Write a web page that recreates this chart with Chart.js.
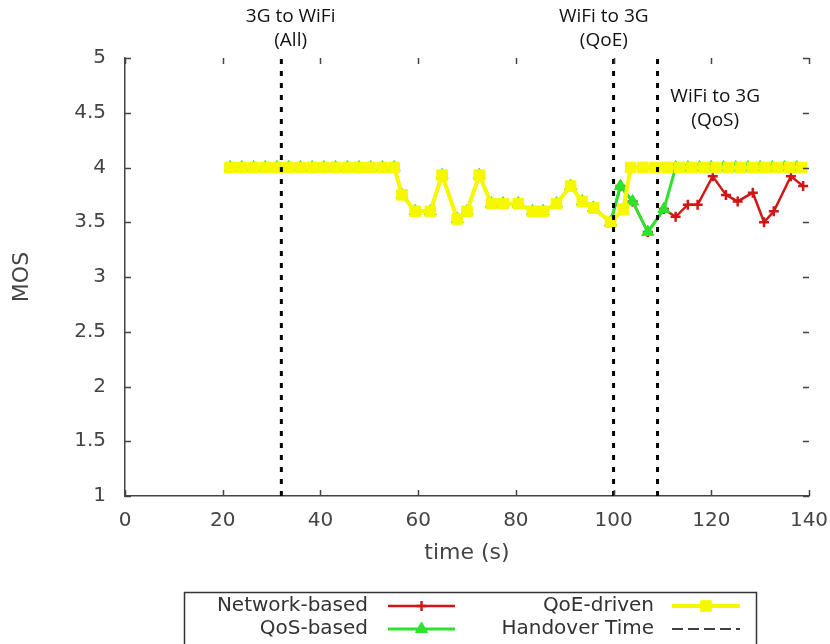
<!DOCTYPE html>
<html>
<head>
<meta charset="utf-8">
<script src="https://cdn.jsdelivr.net/npm/chart.js@4.4.0/dist/chart.umd.min.js"></script>
<style>
  html, body { margin: 0; padding: 0; background: #fff; }
  #wrap { width: 830px; height: 644px; }
</style>
</head>
<body>
<div id="wrap"><canvas id="chart" width="830" height="644"></canvas></div>
<script>
// samples shared by all three methods (identical MOS until the WiFi->3G handover)
const commonTime = [21.5, 23.9, 26.3, 28.7, 31.1, 33.5, 35.9, 38.3, 40.7, 43.1, 45.5, 47.9, 50.3, 52.7, 55.1,
    56.7, 59.4, 62.5, 64.9, 68, 70, 72.5, 75, 77.4, 80.5, 83.4, 85.6, 88.3, 91.2, 93.6, 95.9, 99.4];
const commonMos = [4, 4, 4, 4, 4, 4, 4, 4, 4, 4, 4, 4, 4, 4, 4,
    3.75, 3.6, 3.6, 3.93, 3.53, 3.6, 3.93, 3.67, 3.67, 3.67, 3.6, 3.6, 3.67, 3.83, 3.69, 3.63, 3.5];

// after the split
const networkTime = [101.4, 103.9, 107, 110.3, 112.7, 115.2, 117.2, 120.3, 123, 125.4, 128.5, 130.8, 132.8, 136.3, 138.8];
const networkMos = [3.83, 3.69, 3.41, 3.62, 3.55, 3.66, 3.66, 3.92, 3.75, 3.69, 3.77, 3.5, 3.6, 3.92, 3.83];

const qosTime = [101.4, 103.9, 107, 110.3, 112.7, 115.2, 117.6, 120, 122.5, 125, 127.5, 130, 132.5, 135, 137.5];
const qosMos = [3.83, 3.69, 3.41, 3.62, 4, 4, 4, 4, 4, 4, 4, 4, 4, 4, 4];

const qoeTime = [102, 103.5, 106, 108.5, 111, 113.5, 116, 118.5, 121, 123.5, 126, 128.5, 131, 133.5, 136, 138.5];
const qoeMos = [3.62, 4, 4, 4, 4, 4, 4, 4, 4, 4, 4, 4, 4, 4, 4, 4];

const handoverTimes = [32, 100, 109];
const handoverNotes = [['3G to WiFi', '(All)'], ['WiFi to 3G', '(QoE)'], ['WiFi to 3G', '(QoS)']];

const xTicks = [0, 20, 40, 60, 80, 100, 120, 140];
const yTicks = [1, 1.5, 2, 2.5, 3, 3.5, 4, 4.5, 5];

// build point lists
function toPoints(times, values) {
    return times.map((t, i) => ({ x: t, y: values[i] }));
}
const commonPts = toPoints(commonTime, commonMos);

const RED = '#d41515';
const GREEN = '#2ee22e';
const YELLOW = '#f7f700';

const datasets = [
    {
        label: 'Network-based',
        data: commonPts.concat(toPoints(networkTime, networkMos)),
        borderColor: RED, backgroundColor: RED,
        borderWidth: 2.5, pointStyle: 'cross', pointRadius: 5, pointBorderWidth: 2.5,
        order: 3
    },
    {
        label: 'QoS-based',
        data: commonPts.concat(toPoints(qosTime, qosMos)),
        borderColor: GREEN, backgroundColor: GREEN,
        borderWidth: 3, pointStyle: 'triangle', pointRadius: 7, pointBorderWidth: 1,
        order: 2
    },
    {
        label: 'QoE-driven',
        data: commonPts.concat(toPoints(qoeTime, qoeMos)),
        borderColor: YELLOW, backgroundColor: YELLOW,
        borderWidth: 4, pointStyle: 'rect', pointRadius: 7.5, pointBorderWidth: 1,
        order: 1
    }
];
handoverTimes.forEach(t => {
    datasets.push({
        label: 'Handover Time',
        data: [{ x: t, y: 1 }, { x: t, y: 5 }],
        borderColor: '#000', borderWidth: 3, borderDash: [5, 7],
        pointRadius: 0, order: 0
    });
});

const AXIS = '#444';
const FONT = 'DejaVu Sans';

// gnuplot style: inward mirror tics, handover notes, boxed key
const decorPlugin = {
    id: 'decor',
    afterDraw(chart) {
        const ctx = chart.ctx;
        const xs = chart.scales.x, ys = chart.scales.y;
        const a = chart.chartArea;
        const tl = 6;
        ctx.save();
        ctx.strokeStyle = AXIS;
        ctx.lineWidth = 1.5;
        ctx.beginPath();
        xTicks.forEach(v => {
            const px = Math.round(xs.getPixelForValue(v)) + 0.5;
            ctx.moveTo(px, a.bottom); ctx.lineTo(px, a.bottom - tl);
            ctx.moveTo(px, a.top); ctx.lineTo(px, a.top + tl);
        });
        yTicks.forEach(v => {
            const py = Math.round(ys.getPixelForValue(v)) + 0.5;
            ctx.moveTo(a.left, py); ctx.lineTo(a.left + tl, py);
            ctx.moveTo(a.right, py); ctx.lineTo(a.right - tl, py);
        });
        ctx.stroke();

        // handover notes
        const noteX = [33.9, 98, 120.8];
        const noteTop = [17, 17, 97];
        ctx.fillStyle = '#111';
        ctx.font = '19px "Open Sans"';
        ctx.textAlign = 'center';
        ctx.textBaseline = 'middle';
        handoverNotes.forEach((lines, i) => {
            const px = xs.getPixelForValue(noteX[i]);
            lines.forEach((s, j) => ctx.fillText(s, px, noteTop[i] + j * 24));
        });

        // key box
        ctx.strokeStyle = '#333';
        ctx.lineWidth = 1.5;
        ctx.strokeRect(184.5, 592.5, 572, 60);
        const entries = [
            { ds: 0, textRight: 368, x0: 388, x1: 455, y: 606 },
            { ds: 2, textRight: 654, x0: 672, x1: 740, y: 606 },
            { ds: 1, textRight: 368, x0: 388, x1: 455, y: 629 },
            { ds: 3, textRight: 654, x0: 672, x1: 740, y: 629 }
        ];
        ctx.font = '20px "' + FONT + '"';
        ctx.textAlign = 'right';
        entries.forEach(e => {
            const d = chart.data.datasets[e.ds];
            ctx.fillStyle = '#333';
            ctx.fillText(d.label, e.textRight, e.y);
            ctx.strokeStyle = d.borderColor;
            if (d.borderDash) {
                ctx.lineWidth = 1.5;
                ctx.setLineDash([11, 5]);
            } else {
                ctx.lineWidth = d.borderWidth;
                ctx.setLineDash([]);
            }
            ctx.beginPath();
            ctx.moveTo(e.x0, e.y); ctx.lineTo(e.x1, e.y);
            ctx.stroke();
            ctx.setLineDash([]);
            if (d.pointRadius) {
                ctx.fillStyle = d.backgroundColor;
                ctx.lineWidth = d.pointBorderWidth;
                Chart.helpers.drawPoint(ctx, {
                    pointStyle: d.pointStyle, radius: d.pointRadius, rotation: 0, borderWidth: d.pointBorderWidth
                }, (e.x0 + e.x1) / 2, e.y);
            }
        });
        ctx.restore();
    }
};

new Chart(document.getElementById('chart'), {
    type: 'scatter',
    data: { datasets: datasets },
    options: {
        responsive: false,
        animation: false,
        showLine: true,
        layout: { padding: { top: 58, right: 21, bottom: 78, left: 0 } },
        plugins: { legend: { display: false }, tooltip: { enabled: false } },
        scales: {
            x: {
                type: 'linear', min: 0, max: 140,
                afterFit: s => { s.height = 70; s.paddingLeft = 0; s.paddingRight = 0; },
                afterBuildTicks: s => { s.ticks = xTicks.map(v => ({ value: v })); },
                grid: { display: true, drawOnChartArea: false, drawTicks: false },
                border: { display: true, color: AXIS, width: 1.5 },
                ticks: { color: AXIS, font: { family: FONT, size: 20 }, padding: 13, maxRotation: 0 },
                title: { display: true, text: 'time (s)', color: AXIS, font: { family: FONT, size: 22 }, padding: { top: 0, bottom: 0 } }
            },
            y: {
                type: 'linear', min: 1, max: 5,
                afterFit: s => { s.width = 125; s.paddingTop = 0; s.paddingBottom = 0; },
                afterBuildTicks: s => { s.ticks = yTicks.map(v => ({ value: v })); },
                grid: { display: true, drawOnChartArea: false, drawTicks: false },
                border: { display: true, color: AXIS, width: 1.5 },
                ticks: { color: AXIS, font: { family: FONT, size: 20 }, padding: 19, callback: v => String(v) },
                title: { display: true, text: 'MOS', color: AXIS, font: { family: FONT, size: 22 }, padding: { top: 9, bottom: 0 } }
            }
        }
    },
    plugins: [decorPlugin]
});
</script>
</body>
</html>
